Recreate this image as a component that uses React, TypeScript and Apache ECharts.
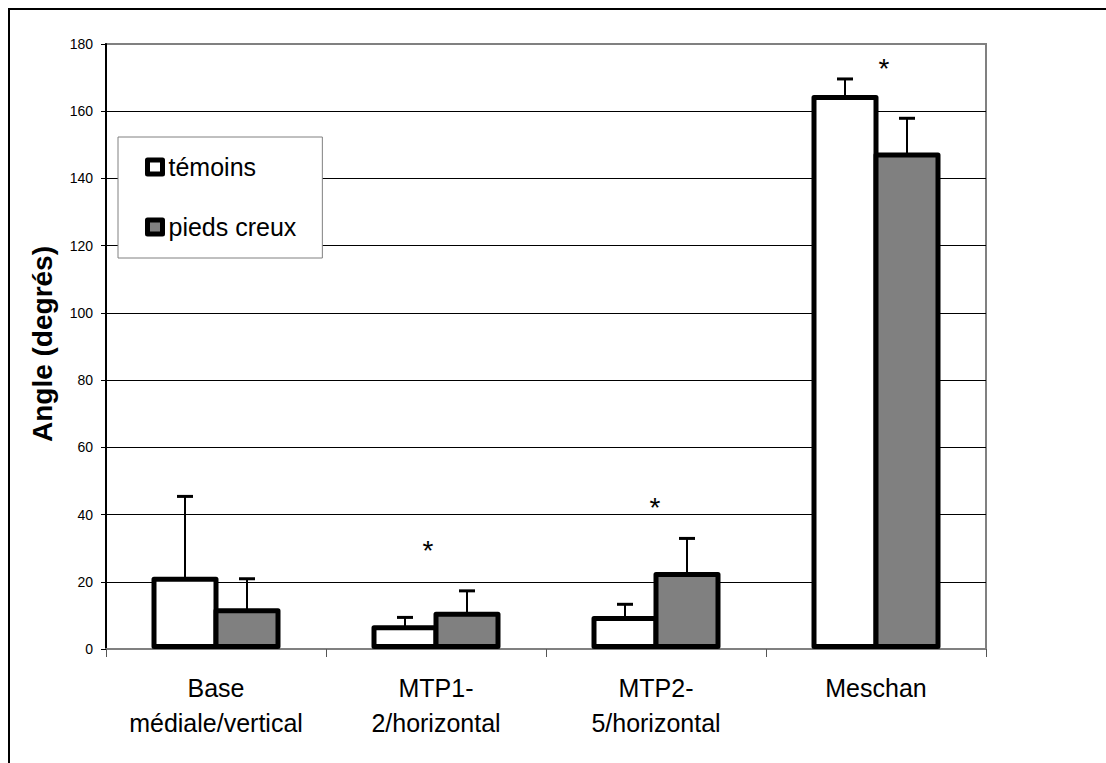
import React, { useEffect, useRef } from "react";
import * as echarts from "echarts";

// Foot angle measurements: controls vs. cavus feet
const categories = [
  "Base\nmédiale/vertical",
  "MTP1-\n2/horizontal",
  "MTP2-\n5/horizontal",
  "Meschan",
];
const temoinsMean = [21.5, 7.1, 9.8, 164.8];
const temoinsSd = [23.9, 2.3, 3.5, 4.8];
const creuxMean = [12.1, 11.1, 22.9, 147.7];
const creuxSd = [8.8, 6.2, 10.0, 10.2];
const yTicks = { min: 0, max: 180, interval: 20 };

const FONT = "'Liberation Sans', Arial, Helvetica, sans-serif";
const BAR_W = 67;
const BAR_OVERLAP = 5;
const BORDER = 5;

function errorSeries(name: string, means: number[], sds: number[], offset: number) {
  return {
    name,
    type: "custom",
    z: 5,
    silent: true,
    encode: { x: 0, y: 1 },
    data: means.map((m, i) => [i, m, sds[i]]),
    renderItem: (params: any, api: any) => {
      const idx = api.value(0);
      const mean = api.value(1);
      const sd = api.value(2);
      const base = api.coord([idx, mean]);
      const top = api.coord([idx, mean + sd]);
      const x = base[0] + offset;
      return {
        type: "group",
        children: [
          {
            type: "line",
            shape: { x1: x, y1: base[1] + 2, x2: x, y2: top[1] },
            style: { stroke: "#000", lineWidth: 2 },
          },
          {
            type: "line",
            shape: { x1: x - 8, y1: top[1], x2: x + 8, y2: top[1] },
            style: { stroke: "#000", lineWidth: 3 },
          },
        ],
      };
    },
  };
}

function star(x: number, y: number) {
  return {
    type: "text",
    x,
    y,
    style: { text: "*", fontSize: 28, fontFamily: FONT, fill: "#000", align: "center", verticalAlign: "middle" },
  };
}

export default function App() {
  const ref = useRef<HTMLDivElement>(null);

  useEffect(() => {
    if (!ref.current) return;
    const chart = echarts.init(ref.current, undefined, { renderer: "svg" });
    const splitColors = Array.from({ length: 10 }, (_, i) => (i === 9 ? "#808080" : "#000"));
    const half = (BAR_W - BAR_OVERLAP) / 2;
    const gap = `${(-BAR_OVERLAP / BAR_W) * 100}%`;

    chart.setOption({
      animation: false,
      backgroundColor: "#fff",
      textStyle: { fontFamily: FONT },
      grid: {
        left: 106,
        top: 44,
        right: 120,
        bottom: 114,
        show: true,
        backgroundColor: "#fff",
        borderColor: "#808080",
        borderWidth: 2,
      },
      legend: {
        left: 118,
        top: 137,
        orient: "vertical",
        data: ["témoins", "pieds creux"],
        backgroundColor: "#fff",
        borderColor: "#808080",
        borderWidth: 1,
        borderRadius: 0,
        padding: [15, 26, 16, 27],
        itemGap: 30,
        itemWidth: 15,
        itemHeight: 14,
        icon: "rect",
        itemStyle: { borderColor: "#000", borderWidth: 5, borderJoin: "round" },
        textStyle: { fontSize: 25, color: "#000", fontFamily: FONT, lineHeight: 30, padding: [0, 0, 0, 1] },
      },
      xAxis: {
        type: "category",
        data: categories,
        axisLine: { show: true, lineStyle: { color: "#808080", width: 2 } },
        axisTick: { show: true, length: 8, lineStyle: { color: "#555", width: 1 } },
        axisLabel: {
          color: "#000",
          fontSize: 25,
          fontFamily: FONT,
          lineHeight: 35,
          margin: 21,
          interval: 0,
        },
      },
      yAxis: {
        type: "value",
        min: yTicks.min,
        max: yTicks.max,
        interval: yTicks.interval,
        axisLine: { show: true, lineStyle: { color: "#000", width: 2 } },
        axisTick: { show: true, length: 5, lineStyle: { color: "#000", width: 1 } },
        axisLabel: { color: "#000", fontSize: 14, fontFamily: FONT, margin: 13 },
        splitLine: { show: true, lineStyle: { color: splitColors, width: 1 } },
      },
      series: [
        {
          name: "témoins",
          type: "bar",
          barWidth: BAR_W,
          barGap: gap,
          data: temoinsMean,
          itemStyle: { color: "#fff", borderColor: "#000", borderWidth: BORDER, borderJoin: "round" },
        },
        {
          name: "pieds creux",
          type: "bar",
          barWidth: BAR_W,
          barGap: gap,
          data: creuxMean,
          itemStyle: { color: "#808080", borderColor: "#000", borderWidth: BORDER, borderJoin: "round" },
        },
        errorSeries("err-temoins", temoinsMean, temoinsSd, -half),
        errorSeries("err-creux", creuxMean, creuxSd, half),
      ],
      graphic: [
        {
          type: "rect",
          silent: true,
          z: 100,
          shape: { x: 9, y: 9, width: 1300, height: 1000 },
          style: { fill: "none", stroke: "#000", lineWidth: 2 },
        },
        {
          type: "text",
          x: 42,
          y: 344,
          rotation: Math.PI / 2,
          style: {
            text: "Angle (degrés)",
            fontSize: 28,
            fontWeight: "bold",
            fontFamily: FONT,
            fill: "#000",
            align: "center",
            verticalAlign: "middle",
          },
        },
        star(428, 550),
        star(655, 507),
        star(884, 68),
      ],
    });

    return () => chart.dispose();
  }, []);

  return (
    <div
      ref={ref}
      style={{ position: "absolute", left: 0, top: 0, width: 1106, height: 763 }}
    />
  );
}
